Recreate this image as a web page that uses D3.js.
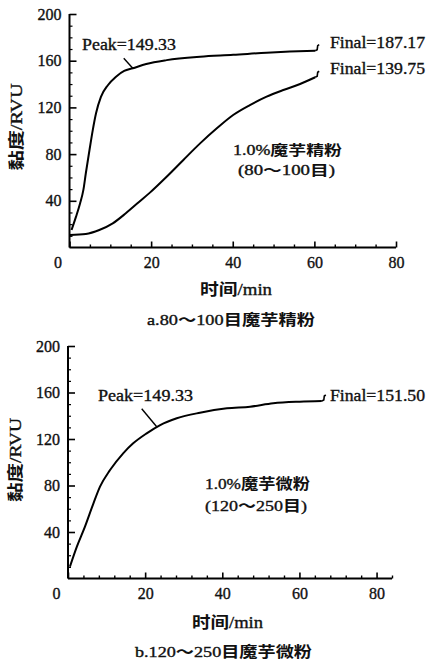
<!DOCTYPE html>
<html><head><meta charset="utf-8">
<script src="https://cdn.jsdelivr.net/npm/d3@7"></script>
<style>
body{margin:0;background:#fff;}
svg{display:block;}
text{fill:#111;}
.lat{font-family:"Liberation Serif","DejaVu Serif","Noto Serif",Georgia,serif;}
.cjk{font-family:"Noto Sans CJK SC","Noto Sans CJK JP",sans-serif;font-weight:700;}
</style></head>
<body>
<svg id="c" width="426" height="665"></svg>
<script>
// ---------- data ----------
const xTicks = [0, 20, 40, 60, 80];
const yTicks = [40, 80, 120, 160, 200];

// Panel a: 80~100 mesh konjac refined flour
const aFastT = [0.5, 1.6, 2.6, 3.4, 4.0, 4.9, 5.7, 6.5, 7.7, 9.4, 11.4, 13.4, 15.5, 18.8, 23.8, 32, 40.1, 48.3, 54, 60.2];
const aFastV = [15, 26.4, 37.9, 49.3, 63.6, 83.5, 100.6, 115, 129, 139, 146.3, 151.2, 153.5, 157.2, 160.5, 163.4, 165, 166.9, 167.8, 168.6];
const aSlowT = [0.1, 4, 7.3, 10.6, 13.8, 17.1, 19.7, 23.8, 27.9, 32, 36.1, 40.1, 44.2, 48.3, 52.4, 56.5, 60.2];
const aSlowV = [10.7, 11.6, 15, 20.7, 29.3, 39.2, 47, 60.6, 75, 89.2, 102.1, 113.5, 122, 129.2, 134.9, 140, 145.8];
const aPeakLabel = "Peak=149.33";
const aFinalLabels = ["Final=187.17", "Final=139.75"];
const aNote = ["1.0%魔芋精粉", "(80～100目)"];
const aCaption = "a.80～100目魔芋精粉";

// Panel b: 120~250 mesh konjac micro powder
const bT = [0.5, 2.3, 4.4, 6.6, 8.3, 10.9, 14.3, 16.9, 20.4, 23.9, 28.2, 34.2, 41.2, 47.2, 53.2, 60.1, 65.8];
const bV = [10.2, 27.4, 44.6, 64.7, 79, 93.3, 107.7, 116.3, 124.9, 132, 137.8, 142.6, 146.4, 147.8, 150.7, 152.1, 152.7];
const bPeakLabel = "Peak=149.33";
const bFinalLabel = "Final=151.50";
const bNote = ["1.0%魔芋微粉", "(120～250目)"];
const bCaption = "b.120～250目魔芋微粉";

const xTitle = "时间/min";
const yTitle = "黏度/RVU";

// ---------- drawing ----------
const svg = d3.select("#c");
const cjkRe = /[\u3000-\u9fff\uff00-\uffef]/;

function zip(t, v){ return t.map((d,i)=>[d, v[i]]); }

function runs(s){
  const out = [];
  for (const ch of s) {
    const c = cjkRe.test(ch);
    if (out.length && out[out.length-1].c === c) out[out.length-1].s += ch;
    else out.push({s: ch, c});
  }
  return out;
}

function panel(cfg){
  const g = svg.append("g");
  const x = d3.scaleLinear().domain(cfg.xDomain).range(cfg.xRange);
  const y = d3.scaleLinear().domain([0,200]).range(cfg.yRange);

  // x axis major
  const xa = g.append("g").attr("transform", `translate(0,${cfg.yRange[0]})`)
    .call(d3.axisBottom(x).tickValues(xTicks).tickSizeInner(-6).tickSizeOuter(0).tickPadding(9));
  xa.attr("font-family", null).attr("font-size", null);
  xa.select(".domain").attr("stroke-width", 2).attr("d", `M${cfg.xRange[0]},0H${cfg.xRange[1]}`);
  xa.selectAll(".tick line").attr("stroke-width", 1.6);
  xa.selectAll(".tick text").attr("class", "lat").style("font-size", "16px")
    .attr("stroke", "#111").attr("stroke-width", 0.35)
    .attr("dx", d => d === 0 ? -12 : 0);
  // x minor ticks
  const xMinor = d3.range(0, cfg.xDomain[1] + 0.01, cfg.xMinorStep).filter(v => v % 20 !== 0);
  const xm = g.append("g").attr("transform", `translate(0,${cfg.yRange[0]})`)
    .call(d3.axisBottom(x).tickValues(xMinor).tickSizeInner(-3).tickSizeOuter(0).tickFormat(""));
  xm.select(".domain").remove();
  xm.selectAll(".tick line").attr("stroke-width", 1.4);

  // y axis major
  const ya = g.append("g").attr("transform", `translate(${cfg.xRange[0]},0)`)
    .call(d3.axisLeft(y).tickValues(yTicks).tickSizeInner(-7).tickSizeOuter(0).tickPadding(8));
  ya.attr("font-family", null).attr("font-size", null);
  ya.select(".domain").attr("stroke-width", 2).attr("d", `M0,${cfg.yRange[0]}V${cfg.yRange[1]}`);
  ya.selectAll(".tick line").attr("stroke-width", 1.6);
  ya.selectAll(".tick text").attr("class", "lat").style("font-size", "16px")
    .attr("stroke", "#111").attr("stroke-width", 0.35);
  const yMinor = d3.range(10, 200, 10).filter(v => v % 40 !== 0);
  const ym = g.append("g").attr("transform", `translate(${cfg.xRange[0]},0)`)
    .call(d3.axisLeft(y).tickValues(yMinor).tickSizeInner(-3).tickSizeOuter(0).tickFormat(""));
  ym.select(".domain").remove();
  ym.selectAll(".tick line").attr("stroke-width", 1.2);

  const line = d3.line().x(d => x(d[0])).y(d => y(d[1])).curve(d3.curveMonotoneX);
  cfg.series.forEach(s => {
    g.append("path").datum(s).attr("d", line).attr("fill", "none")
      .attr("stroke", "#000").attr("stroke-width", 2).attr("stroke-linejoin", "round");
    const e = s[s.length-1];
    const ex = x(e[0]), ey = y(e[1]);
    g.append("path").attr("d", `M${ex},${ey} L${ex+2},${ey-1} L${ex+2.5},${ey-5} L${ex+4},${ey-6}`)
      .attr("fill", "none").attr("stroke", "#000").attr("stroke-width", 1.6);
  });

  // peak leader
  const pl = cfg.peak;
  g.append("line").attr("x1", x(pl.t) + pl.dx).attr("y1", y(pl.v) + pl.dy)
    .attr("x2", x(pl.t)).attr("y2", y(pl.v)).attr("stroke", "#000").attr("stroke-width", 1.4);

  // texts
  cfg.texts.forEach(t => {
    const el = g.append("text").attr("x", t.x).attr("y", t.y)
      .style("font-size", (t.fs || 16) + "px")
      .attr("text-anchor", t.rot ? "middle" : "start");
    runs(t.s).forEach(r => {
      el.append("tspan").text(r.s)
        .attr("class", r.c ? "cjk" : "lat")
        .attr("stroke", "#111").attr("stroke-width", r.c ? 0 : 0.35);
    });
    if (t.w) el.attr("textLength", t.w).attr("lengthAdjust", "spacingAndGlyphs");
    if (t.rot) el.attr("transform", `rotate(-90,${t.x},${t.y})`);
  });
}

panel({
  xDomain: [0, 80], xRange: [69.5, 396], yRange: [247.5, 14], xMinorStep: 5,
  series: [zip(aFastT, aFastV), zip(aSlowT, aSlowV)],
  peak: {t: 15.5, v: 153.5, dx: -9, dy: -10},
  texts: [
    {s: aPeakLabel, x: 82, y: 50, w: 94},
    {s: aFinalLabels[0], x: 330, y: 48, w: 95},
    {s: aFinalLabels[1], x: 330, y: 74, w: 95},
    {s: aNote[0], x: 233, y: 155, w: 109, fs: 14},
    {s: aNote[1], x: 238, y: 175, w: 97, fs: 14},
    {s: xTitle, x: 200, y: 295, w: 72, fs: 16},
    {s: aCaption, x: 147, y: 325, w: 168, fs: 15},
    {s: yTitle, x: 22, y: 127, w: 87, fs: 16, rot: true}
  ]
});

panel({
  xDomain: [0, 84], xRange: [68, 392], yRange: [578.5, 346], xMinorStep: 4,
  series: [zip(bT, bV)],
  peak: {t: 23, v: 130.6, dx: -15, dy: -18},
  texts: [
    {s: bPeakLabel, x: 98, y: 401, w: 95},
    {s: bFinalLabel, x: 330, y: 401, w: 95},
    {s: bNote[0], x: 205, y: 489, w: 105, fs: 15},
    {s: bNote[1], x: 205, y: 511, w: 102, fs: 15},
    {s: xTitle, x: 192, y: 628, w: 71, fs: 16},
    {s: bCaption, x: 135, y: 657, w: 177, fs: 15},
    {s: yTitle, x: 21, y: 460, w: 84, fs: 16, rot: true}
  ]
});
</script>
</body></html>
